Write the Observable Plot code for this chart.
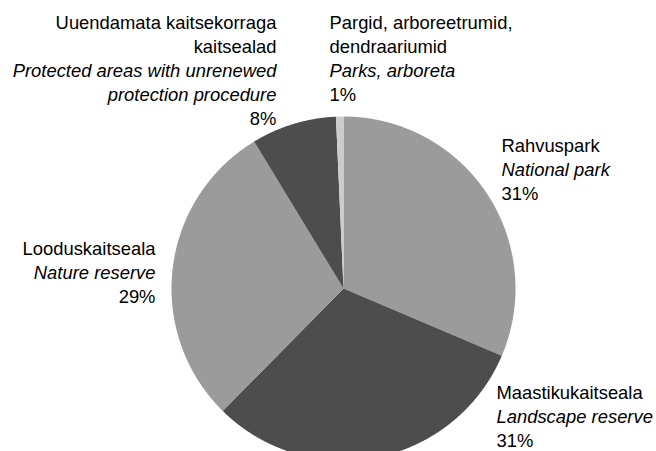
<!DOCTYPE html>
<html>
<head>
<meta charset="utf-8">
<script src="https://cdn.jsdelivr.net/npm/d3@7"></script>
<script src="https://cdn.jsdelivr.net/npm/@observablehq/plot@0.6"></script>
<style>
  html, body { margin: 0; padding: 0; background: #fff; }
  #chart svg { display: block; }
</style>
</head>
<body>
<div id="chart"></div>
<script>
// ---------- data ----------
const categories = [
  "Rahvuspark",
  "Maastikukaitseala",
  "Looduskaitseala",
  "Uuendamata kaitsekorraga kaitsealad",
  "Pargid, arboreetrumid, dendraariumid"
];
const shares = [31.4, 31.0, 28.9, 8.0, 0.7];
const percentLabels = ["31%", "31%", "29%", "8%", "1%"];
const estonianLines = [
  ["Rahvuspark"],
  ["Maastikukaitseala"],
  ["Looduskaitseala"],
  ["Uuendamata kaitsekorraga", "kaitsealad"],
  ["Pargid, arboreetrumid,", "dendraariumid"]
];
const englishLines = [
  ["National park"],
  ["Landscape reserve"],
  ["Nature reserve"],
  ["Protected areas with unrenewed", "protection procedure"],
  ["Parks, arboreta"]
];

// ---------- layout / style ----------
const W = 656, H = 451;
const CX = 343, CY = 288, R = 172;          // pie centre & radius in px
const sliceColors = ["#9b9b9b", "#4d4d4d", "#9b9b9b", "#4d4d4d", "#cccccc"];
const FONT = "'Liberation Sans', Arial, Helvetica, sans-serif";
const FONT_SIZE = 18.4;
const LINE_GAP = 24;
// label offsets (px) from the arc point at each slice's mid angle
const labelLayout = [
  {dx: 14.5,  dy: -42,   anchor: "start"},
  {dx: 119.7, dy: -58.7, anchor: "start"},
  {dx: -17.2, dy: -14,   anchor: "end"},
  {dx: -17,   dy: -95.4, anchor: "end"},
  {dx: -10.2, dy: -88,   anchor: "start"}
];

// ---------- geometry ----------
const table = categories.map((c, i) => ({key: c, share: shares[i], i}));
const arcs = d3.pie().sort(null).value(d => d.share).startAngle(0).endAngle(2 * Math.PI)(table);

const slicePoints = [];
for (const a of arcs) {
  const key = a.data.key;
  slicePoints.push({key, x: 0, y: 0});
  const n = Math.max(2, Math.ceil((a.endAngle - a.startAngle) / 0.004));
  for (let k = 0; k <= n; ++k) {
    const t = a.startAngle + (a.endAngle - a.startAngle) * k / n;
    slicePoints.push({key, x: Math.sin(t), y: Math.cos(t)});
  }
  slicePoints.push({key, x: 0, y: 0});
}

const labelRows = [];
arcs.forEach((a, i) => {
  const mid = (a.startAngle + a.endAngle) / 2;
  const L = labelLayout[i];
  const lines = [
    ...estonianLines[i].map(t => ({t, italic: false})),
    ...englishLines[i].map(t => ({t, italic: true})),
    {t: percentLabels[i], italic: false}
  ];
  lines.forEach((ln, li) => {
    labelRows.push({
      text: ln.t,
      italic: ln.italic,
      anchor: L.anchor,
      x: Math.sin(mid) + L.dx / R,
      y: Math.cos(mid) - (L.dy + li * LINE_GAP) / R
    });
  });
});

const textMarks = [];
for (const anchor of ["start", "end"]) {
  for (const italic of [false, true]) {
    textMarks.push(Plot.text(labelRows.filter(d => d.anchor === anchor && d.italic === italic), {
      x: "x", y: "y", text: "text",
      textAnchor: anchor,
      lineAnchor: "bottom",
      fontStyle: italic ? "italic" : "normal",
      fontSize: FONT_SIZE,
      fontFamily: FONT,
      fill: "#000"
    }));
  }
}

const chart = Plot.plot({
  width: W,
  height: H,
  margin: 0,
  x: {domain: [-CX / R, (W - CX) / R], axis: null},
  y: {domain: [-(H - CY) / R, CY / R], axis: null},
  color: {type: "ordinal", domain: categories, range: sliceColors},
  style: {fontFamily: FONT, background: "#fff"},
  marks: [
    Plot.line(slicePoints, {x: "x", y: "y", z: "key", fill: "key", stroke: "none", curve: "linear"}),
    ...textMarks
  ]
});
document.getElementById("chart").appendChild(chart);
</script>
</body>
</html>
